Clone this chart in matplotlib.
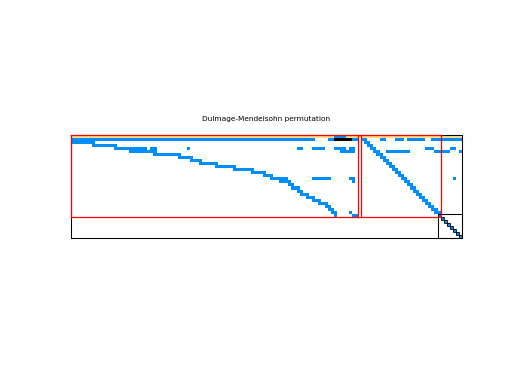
import numpy as np
import matplotlib
matplotlib.use("Agg")
import matplotlib.pyplot as plt
from matplotlib.patches import Rectangle

################################################################
# matrix size (rows x cols) of the permuted pattern
n_rows = 34
n_cols = 128

# nonzero runs: (row, first col, last col + 1)
yellow_runs = [(0, 0, 128)]
black_runs = [(1, 86, 92)]
blue_runs = [
	(0, 86, 90),
	(1, 0, 80), (1, 84, 86), (1, 92, 94), (1, 101, 103), (1, 106, 109),
	(1, 110, 116), (1, 118, 128),
	(2, 0, 8),
	(3, 7, 15),
	(4, 14, 25), (4, 26, 28), (4, 38, 39), (4, 74, 76), (4, 79, 83),
	(4, 86, 90), (4, 91, 93), (4, 116, 119), (4, 124, 126),
	(5, 19, 28), (5, 88, 93), (5, 103, 111), (5, 119, 124), (5, 127, 128),
	(6, 27, 36),
	(7, 35, 40),
	(8, 39, 43),
	(9, 42, 48),
	(10, 47, 54),
	(11, 53, 60),
	(12, 59, 64),
	(13, 63, 66),
	(14, 65, 71), (14, 79, 85), (14, 91, 93), (14, 125, 126),
	(15, 68, 72), (15, 92, 93),
	(16, 71, 73),
	(17, 72, 75),
	(18, 74, 76),
	(19, 75, 78),
	(20, 77, 80),
	(21, 79, 82),
	(22, 81, 84),
	(23, 83, 85),
	(24, 84, 86),
	(25, 85, 87), (25, 91, 92),
	(26, 86, 87), (26, 92, 94),
]
# bidiagonal band of the underdetermined block: rows 1..25, first col
band_rows = [1, 2, 3, 4, 5, 6, 7, 8, 9, 10, 11, 12, 13, 14, 15, 16, 17,
	18, 19, 20, 21, 22, 23, 24, 25]
band_cols = [95, 96, 97, 98, 99, 100, 101, 102, 103, 104, 105, 106, 107,
	108, 109, 110, 111, 112, 113, 114, 115, 116, 117, 118, 119]
# square block diagonal (each is its own 1x1 fine block)
diag_rows = [26, 27, 28, 29, 30, 31, 32, 33]
diag_cols = [120, 121, 122, 123, 124, 125, 126, 127]

# coarse block boundaries (red) and fine square block (black)
red_cols = [0, 94, 95, 121]
red_rows = [0, 27]
fine_block = (26, 34, 120, 128)  # row0, row1, col0, col1
################################################################

BLUE = (0.0, 0.56, 1.0)
YELLOW = (1.0, 0.86, 0.55)
BLACK = (0.0, 0.0, 0.0)

def build_image():
	img = np.ones((n_rows, n_cols, 3))
	for r, c0, c1 in yellow_runs:
		img[r, c0:c1] = YELLOW
	for r, c0, c1 in blue_runs:
		img[r, c0:c1] = BLUE
	for r, c in zip(band_rows, band_cols):
		img[r, c:c + 2] = BLUE
	for r, c in zip(diag_rows, diag_cols):
		img[r, c] = BLUE
	for r, c0, c1 in black_runs:
		img[r, c0:c1] = BLACK
	return img

def main():
	fig = plt.figure(figsize=(5.12, 3.84), dpi=100)
	ax = fig.add_axes([71 / 512, 1 - 238 / 384, 391 / 512, 103 / 384])
	ax.imshow(build_image(), extent=(0, n_cols, n_rows, 0),
		interpolation="nearest", aspect="auto")
	ax.set_xlim(0, n_cols)
	ax.set_ylim(n_rows, 0)
	ax.set_xticks([])
	ax.set_yticks([])
	for sp in ax.spines.values():
		sp.set_linewidth(0.75)

	# coarse decomposition (drawn over the spines)
	top, bot = red_rows[0], red_rows[-1]
	left, right = red_cols[0], red_cols[-1]
	for c in red_cols:
		ax.plot([c, c], [top, bot], color="red", lw=0.9, clip_on=False,
			zorder=4)
	for r in red_rows:
		ax.plot([left, right], [r, r], color="red", lw=0.9, clip_on=False,
			zorder=4)

	# fine blocks
	r0, r1, c0, c1 = fine_block
	ax.add_patch(Rectangle((c0, r0), c1 - c0, r1 - r0, fill=False,
		edgecolor="black", lw=0.75, clip_on=False, zorder=3))
	for r, c in zip(diag_rows, diag_cols):
		ax.add_patch(Rectangle((c, r), 1, 1, fill=False, edgecolor="black",
			lw=0.6, zorder=3))

	ax.set_title("Dulmage-Mendelsohn permutation", fontsize=5.3, pad=10)
	fig.savefig("out.png", dpi=100)

if __name__ == '__main__':
	main()
